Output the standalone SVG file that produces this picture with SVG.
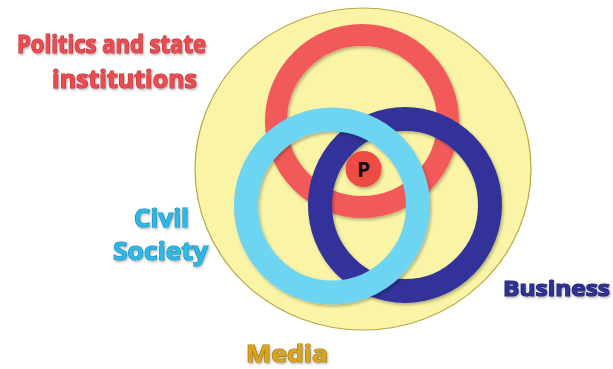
<svg xmlns="http://www.w3.org/2000/svg" width="613" height="369" viewBox="0 0 613 369">
<defs>
<filter id="sh" x="-20%" y="-20%" width="140%" height="140%">
<feDropShadow dx="1.5" dy="2" stdDeviation="1.8" flood-color="#000" flood-opacity="0.28"/>
</filter>
<filter id="tsh" x="-10%" y="-20%" width="120%" height="140%">
<feDropShadow dx="1" dy="1.5" stdDeviation="1" flood-color="#000" flood-opacity="0.3"/>
</filter>
</defs>
<style>
.ring{fill:none;filter:url(#sh)}
.lbl{font-family:"Open Sans","Liberation Sans",sans-serif;font-weight:bold;paint-order:stroke;stroke-width:1.2;filter:url(#tsh)}
</style>
<rect width="613" height="369" fill="#ffffff"/>
<g id="media">
<ellipse cx="363" cy="169" rx="168" ry="161" fill="#FAF4A6" stroke="#B8A845" stroke-width="1.2"/>
<text class="lbl" x="246" y="362" font-size="23" textLength="82" lengthAdjust="spacingAndGlyphs" fill="#D9A520" stroke="#A07810">Media</text>
</g>
<g id="politics">
<circle class="ring" cx="362" cy="121" r="86" stroke="#F25A5A" stroke-width="22"/>
<text class="lbl" x="17" y="53" font-size="25" textLength="189" lengthAdjust="spacingAndGlyphs" fill="#EC4B50" stroke="#B8323A">Politics and state</text>
<text class="lbl" x="52" y="88" font-size="25" textLength="145" lengthAdjust="spacingAndGlyphs" fill="#EC4B50" stroke="#B8323A">institutions</text>
</g>
<g id="business">
<ellipse class="ring" cx="405" cy="205" rx="85" ry="86" stroke="#32339A" stroke-width="24"/>
<text class="lbl" x="503" y="296" font-size="22" textLength="107" lengthAdjust="spacingAndGlyphs" fill="#2E3192" stroke="#1E2070">Business</text>
</g>
<g id="civil-society">
<ellipse class="ring" cx="332" cy="206" rx="86" ry="86.5" stroke="#6DD4F2" stroke-width="24"/>
<text class="lbl" x="134" y="227" font-size="25" textLength="55" lengthAdjust="spacingAndGlyphs" fill="#2FB8E4" stroke="#1A8CB5">Civil</text>
<text class="lbl" x="113" y="260" font-size="25" textLength="95" lengthAdjust="spacingAndGlyphs" fill="#2FB8E4" stroke="#1A8CB5">Society</text>
</g>
<g id="p">
<circle cx="363.5" cy="169" r="18" fill="#EE4B45" filter="url(#sh)"/>
<text x="363.5" y="177" font-family="'Open Sans','Liberation Sans',sans-serif" font-weight="bold" font-size="21" text-anchor="middle" fill="#111">P</text>
</g>
</svg>
